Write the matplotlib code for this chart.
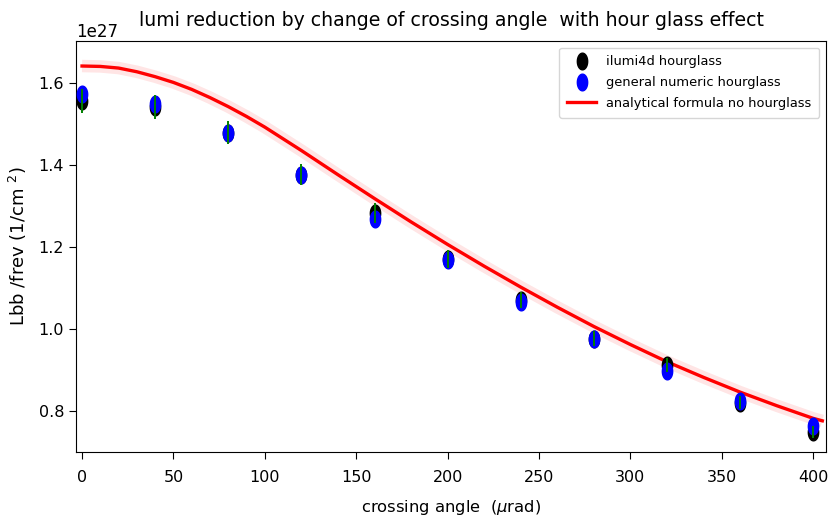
import numpy as np
import matplotlib
matplotlib.use("Agg")
import matplotlib.pyplot as plt
from matplotlib.path import Path

# crossing angles (urad) of the simulated points
angles = [0, 40, 80, 120, 160, 200, 240, 280, 320, 360, 400]
# ilumi4d hourglass, in units of 1e27
ilumi4d = [1.556, 1.541, 1.478, 1.376, 1.283, 1.171, 1.071, 0.976, 0.912, 0.820, 0.749]
ilumi4d_err = [0.030, 0.030, 0.028, 0.025, 0.024, 0.022, 0.020, 0.018, 0.017, 0.016, 0.014]
# general numeric hourglass, in units of 1e27
numeric = [1.573, 1.549, 1.478, 1.376, 1.268, 1.168, 1.066, 0.976, 0.898, 0.824, 0.763]
# analytical formula without hourglass, in units of 1e27
curve_x = [0, 10, 20, 30, 40, 50, 60, 70, 80, 90, 100, 120, 140, 160, 180, 200, 220,
           240, 260, 280, 300, 320, 340, 360, 380, 400, 405]
curve_y = [1.641, 1.640, 1.636, 1.627, 1.615, 1.601, 1.584, 1.564, 1.542, 1.518, 1.492,
           1.435, 1.376, 1.318, 1.261, 1.206, 1.153, 1.102, 1.053, 1.006, 0.962, 0.920,
           0.882, 0.846, 0.813, 0.782, 0.776]

plt.rcParams["font.family"] = "DejaVu Sans"

scale = 1e27

# the points in the reference are squeezed horizontally
t = np.linspace(0, 2 * np.pi, 60)
ellipse = Path(np.column_stack([0.62 * np.cos(t), np.sin(t)]), closed=True)


def main() -> None:
    fig = plt.figure(figsize=(8.3, 5.22), dpi=100)
    ax = fig.add_axes([76 / 830, 1 - 452 / 522, 750 / 830, 411 / 522])

    cx = np.array(curve_x)
    cy = np.array(curve_y) * scale
    ax.plot(cx, cy, color="red", lw=9, alpha=0.1, solid_capstyle="butt", zorder=1)
    ax.plot(cx, cy, color="red", lw=2.4, label="analytical formula no hourglass", zorder=2)

    ax.plot(angles, np.array(ilumi4d) * scale, ls="none", marker=ellipse, ms=12,
            color="black", label="ilumi4d hourglass", zorder=3)
    ax.plot(angles, np.array(numeric) * scale, ls="none", marker=ellipse, ms=12,
            color="blue", label="general numeric hourglass", zorder=4)
    ax.errorbar(angles, np.array(ilumi4d) * scale, yerr=np.array(ilumi4d_err) * scale,
                fmt="none", ecolor="green", elinewidth=1.4, capsize=0, zorder=5)

    ax.set_xlim(-3.3, 407)
    ax.set_ylim(0.70 * scale, 1.702 * scale)
    ax.set_xticks([0, 50, 100, 150, 200, 250, 300, 350, 400])
    ax.set_yticks(np.array([0.8, 1.0, 1.2, 1.4, 1.6]) * scale)
    ax.tick_params(labelsize=11.5, length=5)
    ax.tick_params(axis="x", pad=8)
    ax.yaxis.get_offset_text().set_fontsize(12)

    ax.set_title("lumi reduction by change of crossing angle  with hour glass effect",
                 fontsize=13.6, pad=11)
    ax.set_xlabel(r"crossing angle  ($\mu$rad)", fontsize=11.8, labelpad=9)
    ax.set_ylabel(r"Lbb /frev (1/cm $^2$)", fontsize=13, labelpad=7)

    handles, labels = ax.get_legend_handles_labels()
    order = [1, 2, 0]
    ax.legend([handles[i] for i in order], [labels[i] for i in order],
              loc="upper right", fontsize=9.4, handlelength=2.2, labelspacing=0.6,
              borderpad=0.6)

    fig.savefig("out.png", dpi=100)
    plt.close(fig)


if __name__ == "__main__":
    main()
